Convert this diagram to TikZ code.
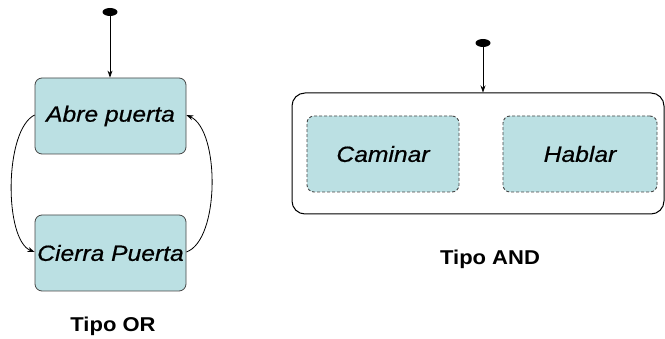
\documentclass[tikz,border=0pt]{standalone}
\usepackage{fontspec}
\setmainfont{Liberation Sans}
\newfontfamily\statefont[FakeStretch=1.12,FakeBold=0.6]{Liberation Sans}
\newfontfamily\capfont[FakeStretch=1.1]{Liberation Sans}
\usetikzlibrary{arrows.meta,shapes.geometric}
\definecolor{statefill}{RGB}{187,224,227}
\definecolor{stateline}{RGB}{70,70,70}
\tikzset{
  statebox/.style={draw=stateline, line width=0.8pt, fill=statefill, rounded corners=7pt,
    minimum width=151pt, minimum height=76pt, inner sep=0pt,
    font=\statefont\itshape\fontsize{22}{24}\selectfont},
  dashbox/.style={statebox, draw=stateline, dash pattern=on 3pt off 2pt, line width=0.9pt},
  superbox/.style={draw=black, line width=1pt, rounded corners=13pt, inner sep=0pt},
  initdot/.style={ellipse, fill=black, minimum width=15pt, minimum height=8pt, inner sep=0pt},
  trans/.style={line width=0.8pt, -{Stealth[length=7pt,width=5pt]}},
  caption/.style={anchor=base, inner sep=0pt, font=\capfont\bfseries\fontsize{20}{22}\selectfont}
}
\begin{document}
\begin{tikzpicture}[x=1pt,y=-1pt]
\useasboundingbox[fill=white] (0,0) rectangle (665,339);
% Tipo OR
\node[initdot] (i1) at (110,12) {};
\node[statebox] (abre) at (110.5,116) {Abre puerta};
\node[statebox] (cierra) at (110.5,253) {Cierra Puerta};
\draw[trans] (i1) -- (abre.north -| i1);
\draw[trans] ([yshift=1pt]abre.west) .. controls (4,130) and (4,240) .. ([yshift=1pt]cierra.west);
\draw[trans] ([yshift=1pt]cierra.east) .. controls (220,240) and (220,130) .. ([yshift=1pt]abre.east);
\node[caption] (tor) at (113,332) {Tipo OR};
% Tipo AND
\node[superbox, minimum width=372pt, minimum height=121pt] (super) at (478,153.5) {};
\node[dashbox, minimum width=152pt] (camin) at (383,154) {Caminar};
\node[dashbox, minimum width=154pt] (habl) at (580,154) {Hablar};
\node[initdot] (i2) at (483,43) {};
\draw[trans] (i2) -- (super.north -| i2);
\node[caption] (tand) at (490,265) {Tipo AND};
\end{tikzpicture}
\end{document}
